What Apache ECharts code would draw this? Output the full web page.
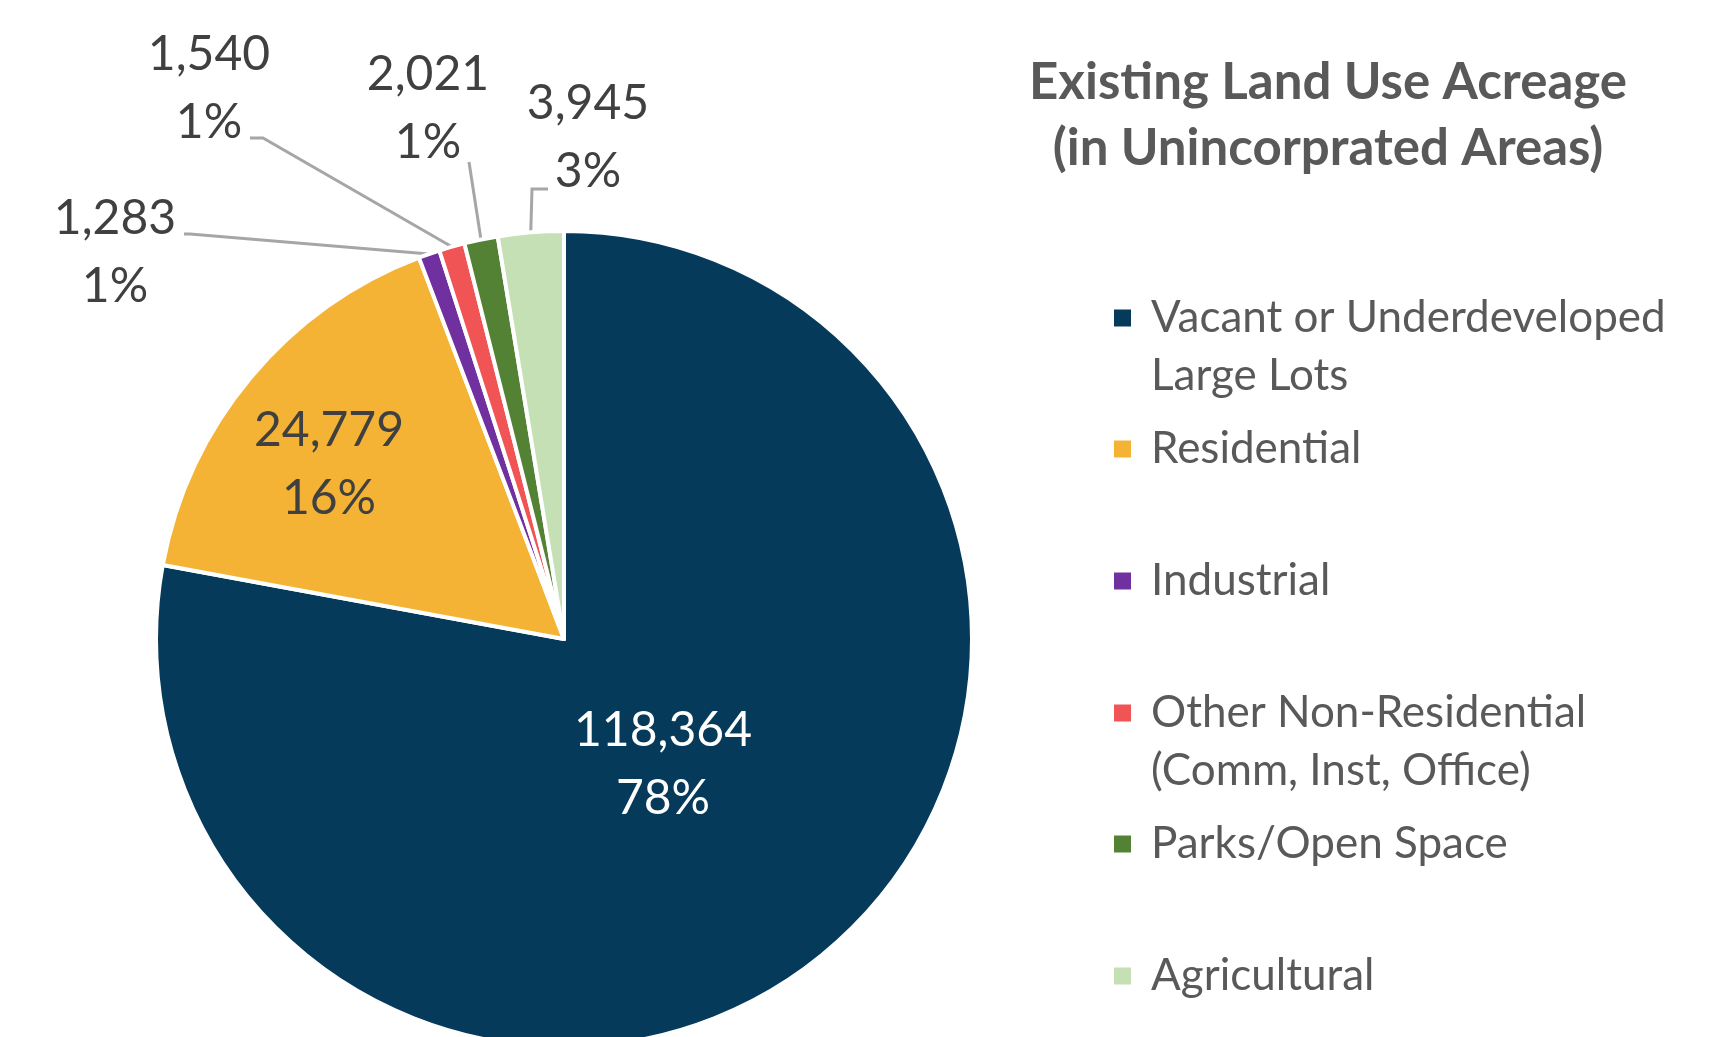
<!DOCTYPE html>
<html>
<head>
<meta charset="utf-8">
<script src="https://cdn.jsdelivr.net/npm/echarts@6/dist/echarts.min.js"></script>
<style>
  html, body { margin: 0; padding: 0; background: #fff; }
  #chart { width: 1719px; height: 1037px; }
</style>
</head>
<body>
<div id="chart"></div>
<script>
const categories = [
  'Vacant or Underdeveloped\nLarge Lots',
  'Residential',
  'Industrial',
  'Other Non-Residential\n(Comm, Inst, Office)',
  'Parks/Open Space',
  'Agricultural'
]
const acres = [118364, 24779, 1283, 1540, 2021, 3945]
const colors = ['#063A5A', '#F5B335', '#7030A0', '#F05454', '#548235', '#C5E0B4']

// layout only: legend row centers, label centers and leader line bends
const legendRowY = [318, 449, 581, 713, 844, 976]
const labelSpots = [
  { x: 663, y: 765 },
  { x: 329, y: 465 },
  { x: 115, y: 253, line: [[190, 234], [184, 234]] },
  { x: 209, y: 89, line: [[263, 138], [250, 138]] },
  { x: 428, y: 109, line: [[469, 162], [469, 162]] },
  { x: 588, y: 138, line: [[532, 189], [548, 189]] }
]

const chart = echarts.init(document.getElementById('chart'))

const legends = categories.map((name, i) => {
  const twoLine = name.indexOf('\n') >= 0
  return {
    data: [name],
    orient: 'vertical',
    left: 1114,
    top: legendRowY[i] - (twoLine ? 87 : 29),
    padding: 0,
    itemWidth: 17,
    itemHeight: 17,
    icon: 'rect',
    selectedMode: false,
    itemStyle: { borderWidth: 0 },
    formatter: n => (n.indexOf('\n') >= 0 ? '\n' + n : n),
    textStyle: {
      fontFamily: 'Lato',
      fontSize: 44,
      color: '#595959',
      lineHeight: 58,
      padding: [0, 0, 0, 15]
    }
  }
})

const option = {
  animation: false,
  title: {
    text: 'Existing Land Use Acreage\n(in Unincorprated Areas)',
    left: 1323,
    top: 45,
    textAlign: 'center',
    textStyle: {
      fontFamily: 'Lato',
      fontWeight: 'bold',
      fontSize: 51,
      lineHeight: 66,
      color: '#595959'
    }
  },
  legend: legends,
  series: [
    {
      type: 'pie',
      center: [564, 639],
      radius: 408,
      startAngle: 90,
      avoidLabelOverlap: false,
      itemStyle: { borderColor: '#fff', borderWidth: 4 },
      label: {
        fontFamily: 'Lato',
        fontSize: 48,
        lineHeight: 68,
        color: '#404040',
        formatter: p => `${p.value.toLocaleString('en-US')}\n${Math.round(p.percent)}%`
      },
      labelLine: {
        show: true,
        lineStyle: { color: '#A6A6A6', width: 3 }
      },
      labelLayout: params => {
        const spot = labelSpots[params.dataIndex]
        const out = { x: spot.x, y: spot.y, align: 'center', verticalAlign: 'middle' }
        if (spot.line && params.labelLinePoints) {
          out.labelLinePoints = [params.labelLinePoints[0]].concat(spot.line)
        }
        return out
      },
      data: categories.map((name, i) => ({
        name,
        value: acres[i],
        itemStyle: { color: colors[i] },
        label: i < 2
          ? { position: 'inside', color: i === 0 ? '#fff' : '#404040' }
          : { position: 'outside' },
        labelLine: { show: i >= 2 }
      }))
    }
  ]
}

chart.setOption(option)
</script>
</body>
</html>
